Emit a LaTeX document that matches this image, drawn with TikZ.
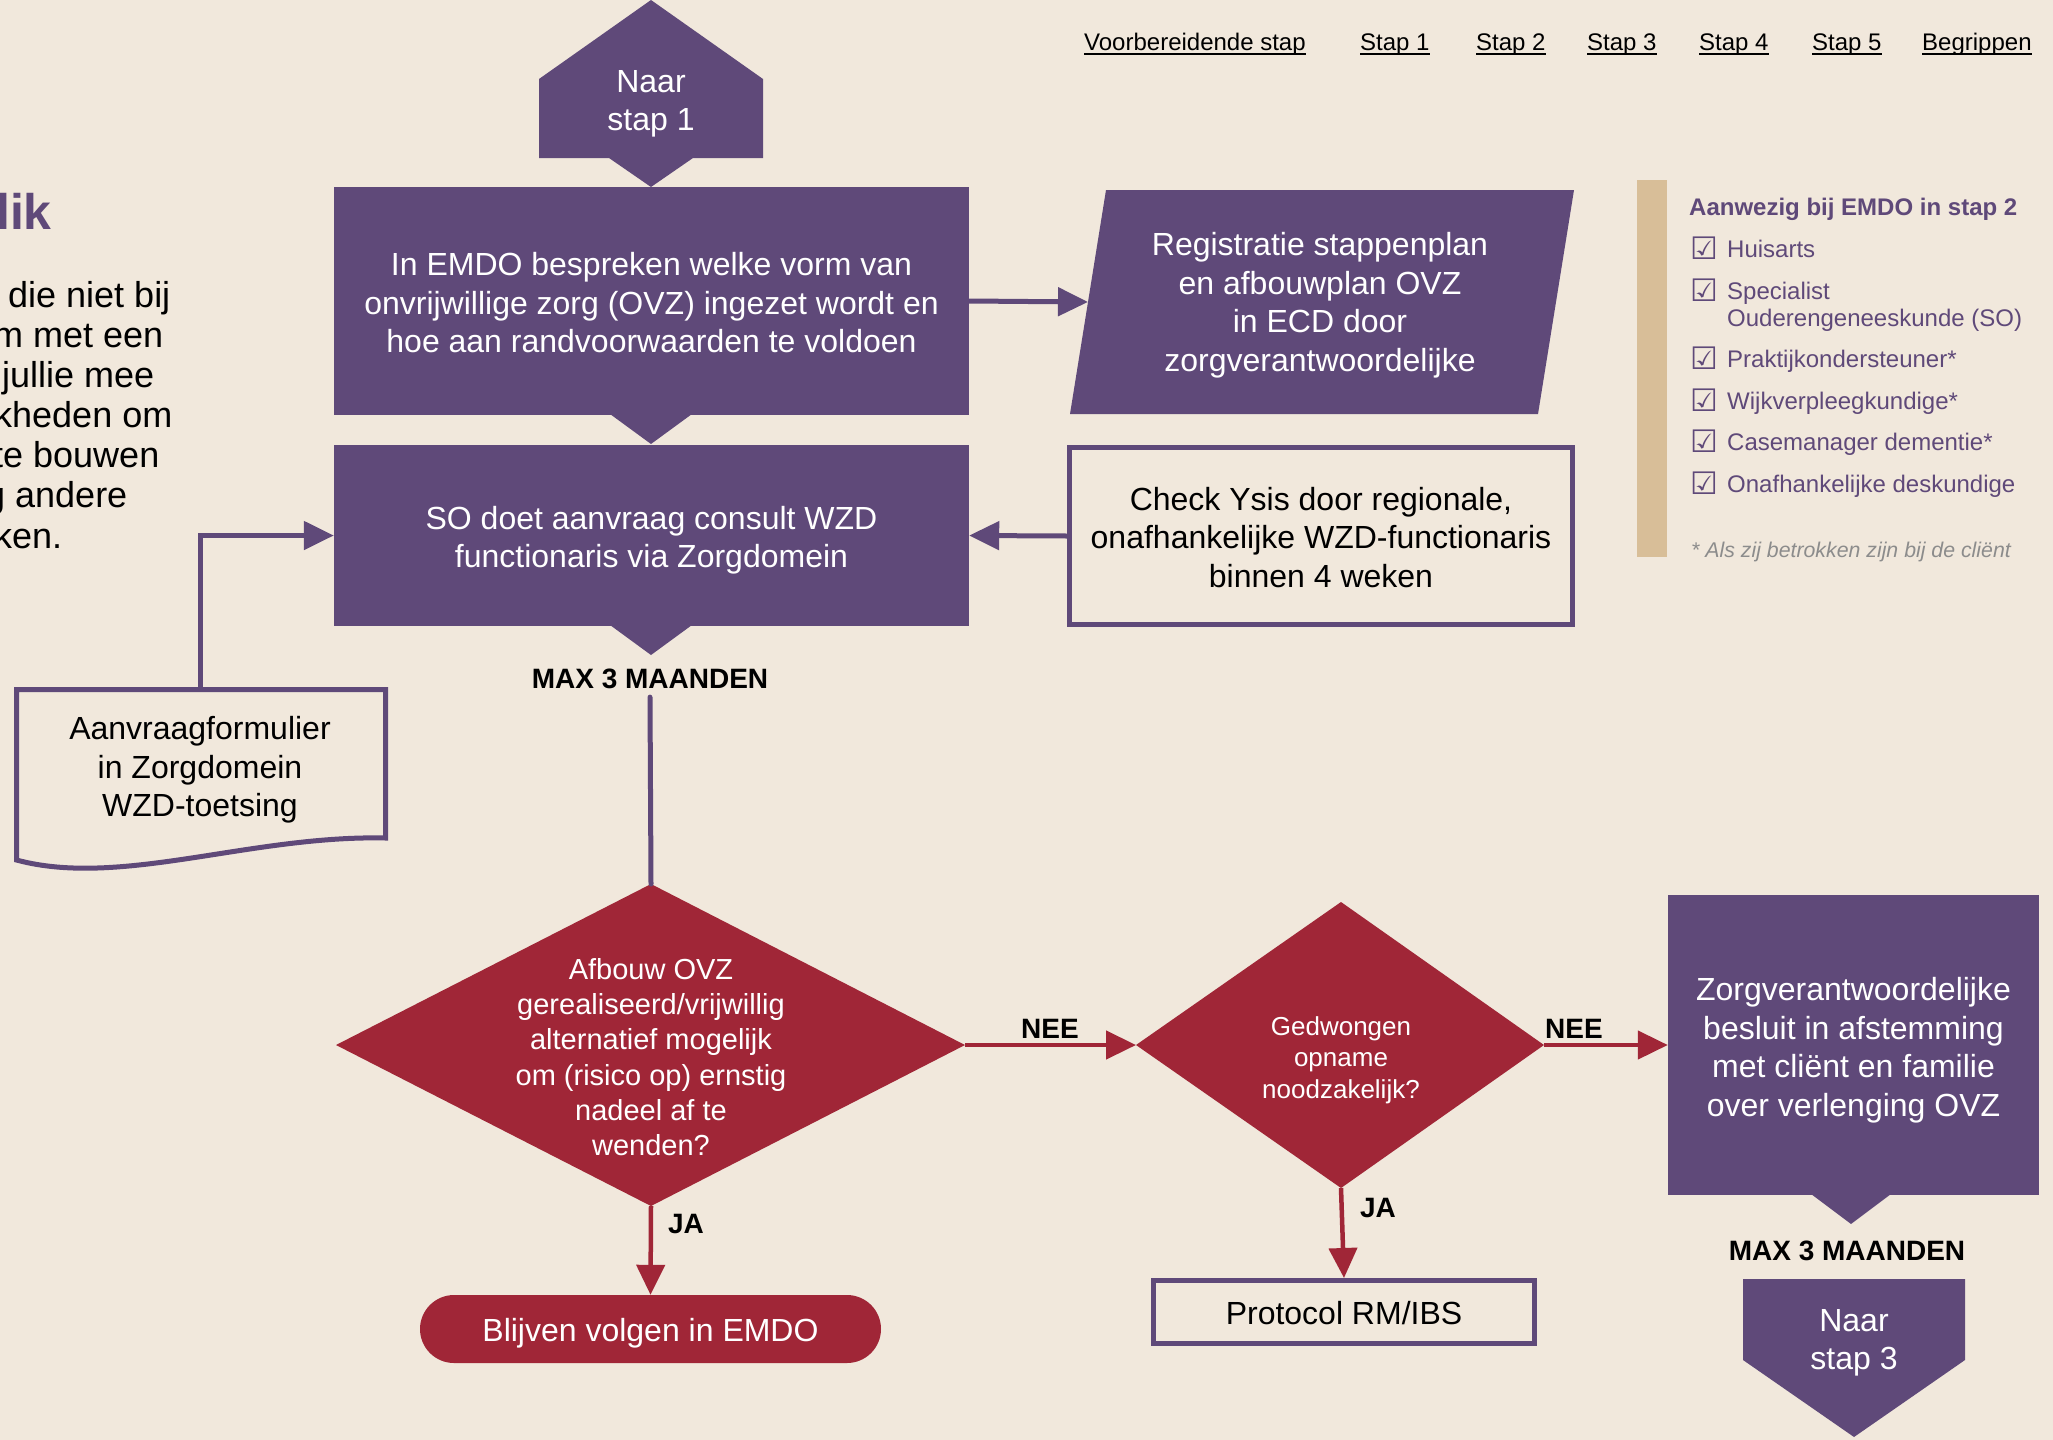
\documentclass[tikz,border=0pt]{standalone}
\usepackage{fontspec}
\setmainfont{Liberation Sans}
\newfontfamily\symfont{DejaVu Sans}
\usetikzlibrary{arrows.meta}
\definecolor{bg}{HTML}{F1E8DC}
\definecolor{purp}{HTML}{5F4979}
\definecolor{redd}{HTML}{A02637}
\definecolor{tanbar}{HTML}{D8BE98}
\definecolor{greyt}{HTML}{8C8C8C}
\newcommand\myfs[2]{\fontsize{#1}{#2}\selectfont}
\begin{document}
\begin{tikzpicture}[x=1pt,y=-1pt,
  wtext/.style={text=white, align=center, inner sep=0pt},
  btext/.style={text=black, align=center, inner sep=0pt},
  big/.style={font=\myfs{32}{38.5}},
  obox/.style={draw=purp, line width=5pt, inner sep=0pt},
  pbox/.style={fill=purp, inner sep=0pt},
  parrow/.style={draw=purp, line width=5pt, -{Triangle[length=30pt,width=28pt]}},
  rarrow/.style={draw=redd, line width=4.5pt, -{Triangle[length=30pt,width=28pt]}},
  lbl/.style={font=\bfseries\myfs{28}{32}, inner sep=0pt},
  nav/.style={font=\myfs{24}{28}, anchor=base west, inner sep=0pt},
  leg/.style={font=\myfs{24}{28}, text=purp, anchor=base west, inner sep=0pt},
  chk/.style={font=\symfont\myfs{31}{33}, text=purp, anchor=base west, inner sep=0pt},
  body/.style={font=\myfs{36}{40}, anchor=base west, inner sep=0pt}
]
\useasboundingbox (0,0) rectangle (2053,1440);
\fill[bg] (0,0) rectangle (2053,1440);
\clip (0,0) rectangle (2053,1440);

% navigation
\node[nav] (n0) at (1084,50) {Voorbereidende stap};
\node[nav] (n1) at (1360,50) {Stap 1};
\node[nav] (n2) at (1476,50) {Stap 2};
\node[nav] (n3) at (1587,50) {Stap 3};
\node[nav] (n4) at (1699,50) {Stap 4};
\node[nav] (n5) at (1812,50) {Stap 5};
\node[nav] (n6) at (1922,50) {Begrippen};
\foreach \n in {n0,n1,n2,n3,n4,n5,n6}{
  \draw[line width=1.8pt] ([yshift=-4pt]\n.base west) -- ([yshift=-4pt]\n.base east);
}

% left cut-off text
\node[font=\bfseries\myfs{50}{54}, text=purp, anchor=base west, inner sep=0pt] (ttl) at (-4,229) {lik};
\node[body] (l1) at (8,307) {die niet bij};
\node[body] (l2) at (-7,347) {m met een};
\node[body] (l3) at (2,387) {jullie mee};
\node[body] (l4) at (-6,427) {kheden om};
\node[body] (l5) at (-7,467) {te bouwen};
\node[body] (l6) at (-15,507) {g andere};
\node[body] (l7) at (-6,548) {ken.};

% Naar stap 1
\fill[purp] (651,0) -- (763,79) -- (763,158) -- (693,158) -- (651,187) -- (609,158) -- (539,158) -- (539,79) -- cycle;
\node[wtext, big] (naar1) at (651,104) {Naar\\stap 1};

% box 1
\node[pbox, minimum width=635pt, minimum height=228pt] (box1) at (651.5,301) {};
\fill[purp] (610,414) -- (651,444) -- (692,414) -- cycle;
\node[wtext, big] (box1t) at (651.5,303)
  {In EMDO bespreken welke vorm van\\onvrijwillige zorg (OVZ) ingezet wordt en\\hoe aan randvoorwaarden te voldoen};

% box 2
\node[pbox, minimum width=635pt, minimum height=181pt] (box2) at (651.5,535.5) {};
\fill[purp] (610,625) -- (651,655) -- (692,625) -- cycle;
\node[wtext, big] (box2t) at (651.5,540) {SO doet aanvraag consult WZD\\functionaris via Zorgdomein};

% Registratie parallelogram
\fill[purp] (1106,190) -- (1574,190) -- (1538,414) -- (1070,414) -- cycle;
\coordinate (regW) at (1088,302);
\node[wtext, big] (reg) at (1320,305)
  {Registratie stappenplan\\en afbouwplan OVZ\\in ECD door\\zorgverantwoordelijke};

% Check box
\node[obox, minimum width=503pt, minimum height=177pt] (chkbox) at (1321,536) {};
\node[btext, big] (chkt) at (1321,537.5)
  {Check Ysis door regionale,\\onafhankelijke WZD-functionaris\\binnen 4 weken};

% Aanvraagformulier document
\draw[purp, line width=5pt, line join=miter] (16.5,860) -- (16.5,689.5) -- (385.5,689.5) -- (385.5,838)
  .. controls (250,835) and (120,888) .. (16.5,860) -- cycle;
\coordinate (docN) at (200,687);
\node[btext, big] (doc) at (200,770) {Aanvraagformulier\\in Zorgdomein\\WZD-toetsing};

% connectors top part
\draw[parrow] (box1.east) -- (regW);
\draw[parrow] (chkbox.west) -- (box2.east);
\draw[parrow, line join=miter] (docN) |- (box2.west);

% MAX 3 MAANDEN 1
\node[lbl] (max1) at (650,679) {MAX 3 MAANDEN};

% diamond 1
\coordinate (d1T) at (651,884);
\coordinate (d1R) at (965,1045);
\coordinate (d1B) at (651,1206);
\coordinate (d1L) at (336,1045);
\fill[redd] (d1T) -- (d1R) -- (d1B) -- (d1L) -- cycle;
\node[wtext, font=\myfs{29}{35.3}] (d1) at (651,1057)
  {Afbouw OVZ\\gerealiseerd/vrijwillig\\alternatief mogelijk\\om (risico op) ernstig\\nadeel af te\\wenden?};
\draw[purp, line width=5pt, line cap=round] ([yshift=-8pt]max1.south) -- (d1T);

% diamond 2
\coordinate (d2T) at (1341,902);
\coordinate (d2R) at (1544,1045);
\coordinate (d2B) at (1341,1188);
\coordinate (d2L) at (1136,1045);
\fill[redd] (d2T) -- (d2R) -- (d2B) -- (d2L) -- cycle;
\node[wtext, font=\myfs{26}{31.4}] (d2) at (1341,1060) {Gedwongen\\opname\\noodzakelijk?};

% Zorgverantwoordelijke box
\node[pbox, minimum width=371pt, minimum height=300pt] (zorg) at (1853.5,1045) {};
\node[wtext, big] (zorgt) at (1853.5,1050)
  {Zorgverantwoordelijke\\besluit in afstemming\\met cliënt en familie\\over verlenging OVZ};
\fill[purp] (1811,1194) -- (1851,1224) -- (1891,1194) -- cycle;
\node[lbl] (max2) at (1847,1251) {MAX 3 MAANDEN};

% Naar stap 3
\fill[purp] (1743,1279) -- (1965,1279) -- (1965,1360) -- (1854,1437) -- (1743,1360) -- cycle;
\node[wtext, big] (naar3) at (1854,1343) {Naar\\stap 3};

% Blijven volgen
\node[fill=redd, rounded corners=34pt, minimum width=461pt, minimum height=68pt, inner sep=0pt] (blij) at (650.5,1329) {};
\node[wtext, big] (blijt) at (650.5,1333) {Blijven volgen in EMDO};

% Protocol
\node[obox, minimum width=381pt, minimum height=63pt] (proto) at (1344,1312) {};
\node[btext, big] (protot) at (1344,1313.5) {Protocol RM/IBS};

% red connectors
\draw[rarrow] (d1R) -- (d2L);
\node[lbl] (nee1) at (1050,1029) {NEE};
\draw[rarrow] (d2R) -- (zorg.west);
\node[lbl] (nee2) at (1574,1029) {NEE};
\draw[rarrow] (d1B) -- (blij.north);
\node[lbl] (ja1) at (686,1224) {JA};
\draw[rarrow] (d2B) -- (proto.north);
\node[lbl] (ja2) at (1378,1208) {JA};

% legend
\fill[tanbar] (1637,180) rectangle (1667,557);
\node[font=\bfseries\myfs{24}{28}, text=purp, anchor=base west, inner sep=0pt] (lh) at (1689,215) {Aanwezig bij EMDO in stap 2};
\node[chk] (c1) at (1690,259) {☑};
\node[leg] (t1) at (1727,257) {Huisarts};
\node[chk] (c2) at (1690,301) {☑};
\node[leg] (t2) at (1727,299) {Specialist};
\node[leg] (t2b) at (1727,326) {Ouderengeneeskunde (SO)};
\node[chk] (c3) at (1690,369) {☑};
\node[leg] (t3) at (1727,367) {Praktijkondersteuner*};
\node[chk] (c4) at (1690,411) {☑};
\node[leg] (t4) at (1727,409) {Wijkverpleegkundige*};
\node[chk] (c5) at (1690,452) {☑};
\node[leg] (t5) at (1727,450) {Casemanager dementie*};
\node[chk] (c6) at (1690,494) {☑};
\node[leg] (t6) at (1727,492) {Onafhankelijke deskundige};
\node[font=\itshape\myfs{21.3}{25}, text=greyt, anchor=base west, inner sep=0pt] (fn) at (1691,557) {* Als zij betrokken zijn bij de cliënt};
\end{tikzpicture}
\end{document}
